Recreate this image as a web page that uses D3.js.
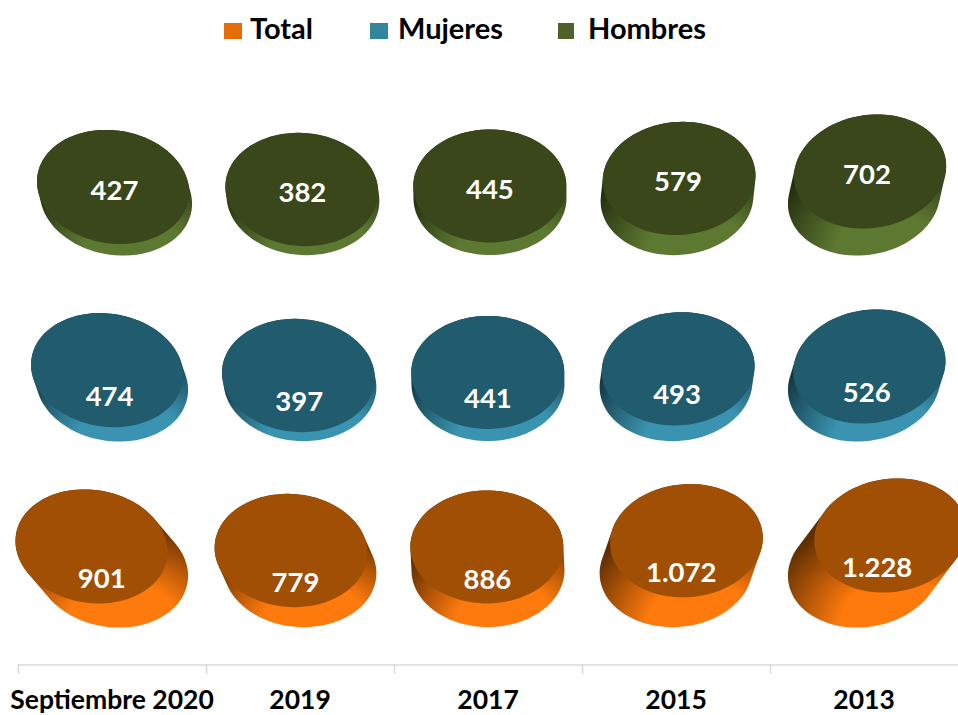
<!DOCTYPE html>
<html><head><meta charset="utf-8">
<script src="https://cdn.jsdelivr.net/npm/d3@7/dist/d3.min.js"></script>
<style>html,body{margin:0;padding:0;background:#fff;overflow:hidden}svg{display:block}text{font-family:Lato,"Open Sans",sans-serif;font-weight:700}</style>
</head><body><svg id="c" width="958" height="715"></svg>
<script>
const categories = ["Septiembre 2020","2019","2017","2015","2013"];
const seriesNames = ["Total","Mujeres","Hombres"];
const total = [901,779,886,1072,1228];
const mujeres = [474,397,441,493,526];
const hombres = [427,382,445,579,702];
const totalLabels = ["901","779","886","1.072","1.228"];
const colorsLegend = ["#e46c0a","#31859c","#4f6228"];
const colorsTop = ["#a14f04","#215b6e","#3a471b"];
const colorsSide = ["#ff7a0c","#3a93b0","#5d7831"];
const colorsDark = ["#5e2e02","#123642","#222c0e"];
const valuesBySeries = [total,mujeres,hombres];
const heightRange = [[20,35],[9,18],[9,27]];
const skew = [1,0.4,0.3];
const labelDy = [32,26,3];
const rowShift = [0,0,4];

const W=958,H=715,rx=76.5,ry=56.5;
const svg=d3.select("#c");
const x=d3.scaleBand().domain(categories).range([18,958]);
const row=d3.scalePoint().domain(["Hombres","Mujeres","Total"]).range([198.5,570.5]);
const tilt=d3.scalePoint().domain(categories).range([9,-9]);
const lean=d3.scalePoint().domain(categories).range([-0.85,0.75]);

const defs=svg.append("defs");
seriesNames.forEach((s,i)=>{
  const g=defs.append("radialGradient").attr("id","g"+i).attr("cx",0.62).attr("cy",1).attr("r",0.78);
  [[0,colorsSide[i]],[0.42,colorsSide[i]],[1,colorsDark[i]]]
   .forEach(([o,c])=>g.append("stop").attr("offset",o).attr("stop-color",c));
});
function ellipsePts(cx,cy,deg){
  const t=deg*Math.PI/180;
  return d3.range(0,360,4).map(a=>{
    const r=a*Math.PI/180,ex=rx*Math.cos(r),ey=ry*Math.sin(r);
    return [cx+ex*Math.cos(t)-ey*Math.sin(t),cy+ex*Math.sin(t)+ey*Math.cos(t)];
  });
}
const line=d3.line().curve(d3.curveLinearClosed);
seriesNames.forEach((s,si)=>{
  const vals=valuesBySeries[si];
  const h=d3.scaleLinear().domain(d3.extent(vals)).range(heightRange[si]);
  categories.forEach((c,ci)=>{
    const bx=x(c)+x.bandwidth()/2+rowShift[si]*(1-ci/4), by=row(s), hv=h(vals[ci]);
    const tx=bx+hv*lean(c)*skew[si], ty=by-hv, deg=tilt(c);
    const g=svg.append("g");
    const hull=d3.polygonHull(ellipsePts(bx,by,deg).concat(ellipsePts(tx,ty,deg)));
    g.append("path").attr("d",line(hull)).attr("fill",`url(#g${si})`);
    g.append("path").attr("d",line(ellipsePts(tx,ty,deg))).attr("fill",colorsTop[si]);
    g.append("text").attr("x",(tx+bx)/2).attr("y",ty+labelDy[si]).attr("dy","0.35em")
     .attr("text-anchor","middle").attr("fill","#fff").attr("font-size",27.5)
     .text(si===0?totalLabels[ci]:vals[ci]);
  });
});
// axis
const axis=d3.axisBottom(x).tickSize(0).tickPadding(26);
const ag=svg.append("g").attr("transform","translate(0,664.5)").call(axis);
ag.select(".domain").attr("stroke","#d9d9d9").attr("stroke-width",1.5);
ag.selectAll(".tick text").attr("fill","#000").attr("font-size",26.5).attr("font-family","Lato").attr("font-weight",700);
svg.append("g").selectAll("line").data(categories).join("line")
  .attr("x1",d=>x(d)+0.5).attr("x2",d=>x(d)+0.5).attr("y1",664).attr("y2",674)
  .attr("stroke","#d9d9d9").attr("stroke-width",1.5);
// legend
const legX=d3.scaleOrdinal().domain(seriesNames).range([224,370,558]);
const lg=svg.append("g").selectAll("g").data(seriesNames).join("g").attr("transform",d=>`translate(${legX(d)},0)`);
lg.append("rect").attr("y",23).attr("width",(d,i)=>i==2?16:18).attr("height",16).attr("fill",(d,i)=>colorsLegend[i]);
lg.append("text").attr("x",(d,i)=>i==2?30:(i==1?28:26)).attr("y",39).attr("font-size",29).attr("fill","#000").text(d=>d);
</script></body></html>
